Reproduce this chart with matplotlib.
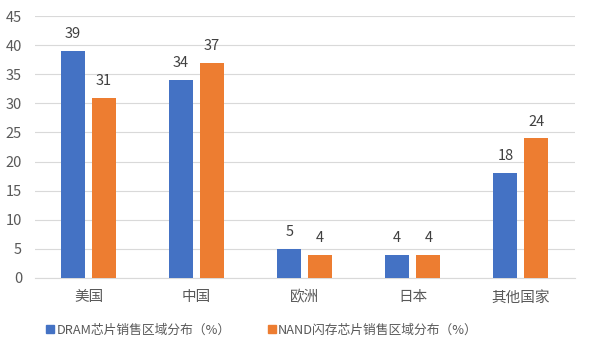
import matplotlib.pyplot as plt
import numpy as np
from matplotlib.lines import Line2D

plt.rcParams['font.family'] = ['Noto Sans CJK SC', 'DejaVu Sans']

categories = ['美国', '中国', '欧洲', '日本', '其他国家']
dram = [39, 34, 5, 4, 18]
nand = [31, 37, 4, 4, 24]
series_names = ['DRAM芯片销售区域分布（%）', 'NAND闪存芯片销售区域分布（%）']
colors = ['#4472C4', '#ED7D31']
text_color = '#595959'

fig = plt.figure(figsize=(5.9, 3.54), dpi=100)
ax = fig.add_axes([0.0585, 0.2147, 0.916, 0.740])

x = np.arange(len(categories))
w = 0.222
off = 0.1435
b1 = ax.bar(x - off, dram, w, color=colors[0], zorder=3)
b2 = ax.bar(x + off, nand, w, color=colors[1], zorder=3)

for bars in (b1, b2):
    for rect in bars:
        h = rect.get_height()
        ax.annotate(f'{h:g}', (rect.get_x() + rect.get_width() / 2, h),
                    xytext=(0, 7), textcoords='offset points',
                    ha='center', va='bottom', fontsize=10.5, color='#404040')

ax.set_xlim(-0.5, len(categories) - 0.5)
ax.set_ylim(0, 45)
ax.set_yticks(range(0, 46, 5))
ax.set_xticks(x)
ax.set_xticklabels(categories)
ax.grid(axis='y', color='#D9D9D9', linewidth=0.8, zorder=0)
for s in ('top', 'right', 'left'):
    ax.spines[s].set_visible(False)
ax.spines['bottom'].set_color('#D9D9D9')
ax.tick_params(axis='both', length=0, labelsize=10.5, colors=text_color)
ax.tick_params(axis='x', pad=9)
ax.tick_params(axis='y', pad=9)

handles = [Line2D([], [], marker='s', linestyle='', markersize=6,
                  markerfacecolor=c, markeredgecolor=c) for c in colors]
leg = fig.legend(handles, series_names, loc='center', bbox_to_anchor=(0.443, 0.068),
                 ncol=2, frameon=False, fontsize=9.2, handletextpad=0.1,
                 columnspacing=2.8, handlelength=0.8)
for t in leg.get_texts():
    t.set_color(text_color)

fig.savefig('out.png', dpi=100)
